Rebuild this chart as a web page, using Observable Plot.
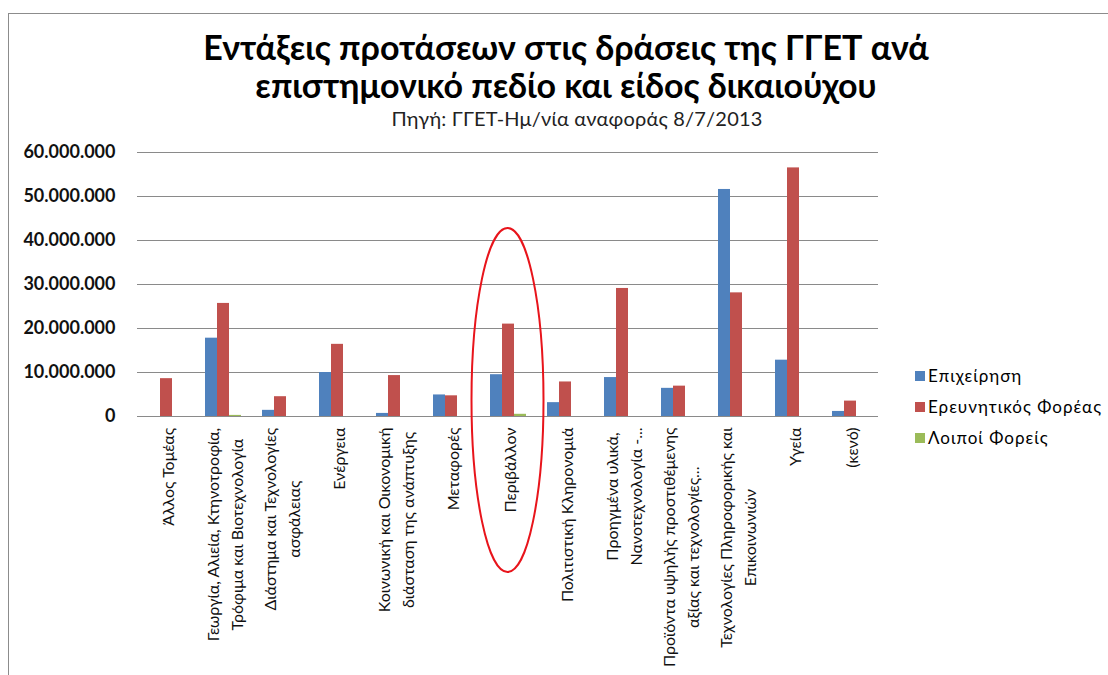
<!DOCTYPE html>
<html>
<head>
<meta charset="utf-8">
<script src="https://cdn.jsdelivr.net/npm/d3@7"></script>
<script src="https://cdn.jsdelivr.net/npm/@observablehq/plot@0.6"></script>
<style>
  html, body { margin: 0; padding: 0; background: #fff; }
  #wrap { position: relative; width: 1108px; height: 675px; overflow: hidden; font-family: Lato, "Open Sans", sans-serif; color: #000; }
  #frame { position: absolute; left: 8px; top: 13px; width: 1200px; height: 800px; border-left: 1px solid #8c8c8c; border-top: 1px solid #8c8c8c; }
  .title { position: absolute; left: 24px; width: 1084px; top: 28px; text-align: center; font-weight: bold; font-size: 34px; line-height: 38px; }
  .subtitle { position: absolute; left: 46px; width: 1062px; text-align: center; font-size: 20px; line-height: 24px; letter-spacing: 0.2px; top: 106px; color: #222; }
  #chart { position: absolute; left: 0; top: 135px; }
  .leg { position: absolute; left: 915px; font-size: 17px; letter-spacing: 1px; display: flex; align-items: center; white-space: nowrap; }
  .leg span.sw { display: inline-block; width: 10px; height: 10px; margin-right: 3px; }
</style>
</head>
<body>
<div id="wrap">
  <div id="frame"></div>
  <div class="title">Εντάξεις προτάσεων στις δράσεις της ΓΓΕΤ ανά<br>επιστημονικό πεδίο και είδος δικαιούχου</div>
  <div class="subtitle">Πηγή: ΓΓΕΤ-Ημ/νία αναφοράς 8/7/2013</div>
  <div id="chart"></div>
  <div id="legend"></div>
</div>
<script>
// ---- data ----
const categories = [
  "Άλλος Τομέας",
  "Γεωργία, Αλιεία, Κτηνοτροφία,\nΤρόφιμα και Βιοτεχνολογία",
  "Διάστημα και Τεχνολογίες\nασφάλειας",
  "Ενέργεια",
  "Κοινωνική και Οικονομική\nδιάσταση της ανάπτυξης",
  "Μεταφορές",
  "Περιβάλλον",
  "Πολιτιστική Κληρονομιά",
  "Προηγμένα υλικά,\nΝανοτεχνολογία -...",
  "Προϊόντα υψηλής προστιθέμενης\nαξίας και τεχνολογίες...",
  "Τεχνολογίες Πληροφορικής και\nΕπικοινωνιών",
  "Υγεία",
  "(κενό)"
];
const seriesNames = ["Επιχείρηση", "Ερευνητικός Φορέας", "Λοιποί Φορείς"];
const epixeirisi = [0, 17800000, 1400000, 10000000, 700000, 4900000, 9500000, 3150000, 8850000, 6400000, 51600000, 12800000, 1150000];
const ereunitikos = [8600000, 25700000, 4500000, 16400000, 9300000, 4700000, 21000000, 7850000, 29100000, 6900000, 28100000, 56500000, 3500000];
const loipoi = [0, 250000, 0, 0, 0, 0, 500000, 0, 0, 0, 0, 0, 0];
const colors = ["#4F81BD", "#C0504D", "#9BBB59"];
const yTicks = [0, 10000000, 20000000, 30000000, 40000000, 50000000, 60000000];
const highlighted = "Περιβάλλον";

// ---- table ----
const seriesValues = [epixeirisi, ereunitikos, loipoi];
const rows = [];
categories.forEach((c, i) => {
  seriesNames.forEach((s, j) => rows.push({category: c, series: s, value: seriesValues[j][i]}));
});

// ---- label layout helpers ----
const labelSize = 16;
const ctx = document.createElement("canvas").getContext("2d");
ctx.font = `${labelSize}px Lato`;
const lineGap = 24;
const labelMarks = categories.map(c => {
  const lines = c.split("\n");
  const w = Math.max(...lines.map(l => ctx.measureText(l).width));
  return Plot.text([c], {
    fx: d => d,
    text: d => d,
    frameAnchor: "bottom",
    rotate: -90,
    textAnchor: "middle",
    lineAnchor: "middle",
    lineHeight: lineGap / labelSize,
    fontSize: labelSize,
    fontFamily: "Lato",
    fill: "#111",
    dy: 11 + w / 2
  });
});

const fmt = d => d3.format(",")(d).replace(/,/g, ".");

const marginLeft = 133, marginRight = 226, marginTop = 17, marginBottom = 259;
const plot = Plot.plot({
  width: 1108,
  height: 540,
  marginLeft, marginRight, marginTop, marginBottom,
  style: {fontFamily: "Lato", background: "transparent", overflow: "visible"},
  fx: {domain: categories, padding: 0, axis: null, label: null},
  x: {domain: seriesNames, paddingInner: 0, paddingOuter: 0.79, axis: null},
  y: {domain: [0, 60000000], axis: null},
  color: {domain: seriesNames, range: colors},
  marks: [
    Plot.ruleY(yTicks, {stroke: "#8a8a8a", strokeWidth: 1}),
    Plot.axisY({ticks: yTicks, tickSize: 0, tickPadding: 22, tickFormat: fmt, fontWeight: "bold", fontSize: 18, fontFamily: "Lato", label: null, fill: "#111"}),
    Plot.barY(rows, {fx: "category", x: "series", y: "value", fill: "series"}),
    ...labelMarks
  ]
});
document.getElementById("chart").appendChild(plot);

// annotation ellipse around the highlighted category
const fxs = plot.scale("fx");
const ys = plot.scale("y");
const cx = fxs.apply(highlighted) + fxs.bandwidth / 2;
const y0 = ys.apply(0);
const ns = "http://www.w3.org/2000/svg";
const ell = document.createElementNS(ns, "ellipse");
ell.setAttribute("cx", cx);
ell.setAttribute("cy", y0 - 16);
ell.setAttribute("rx", 36);
ell.setAttribute("ry", 172);
ell.setAttribute("fill", "none");
ell.setAttribute("stroke", "#e8141b");
ell.setAttribute("stroke-width", 2);
plot.appendChild(ell);

// legend
const legend = document.getElementById("legend");
seriesNames.forEach((s, i) => {
  const d = document.createElement("div");
  d.className = "leg";
  d.style.top = (365 + i * 31) + "px";
  d.innerHTML = `<span class="sw" style="background:${colors[i]}"></span>${s}`;
  legend.appendChild(d);
});
</script>
</body>
</html>
